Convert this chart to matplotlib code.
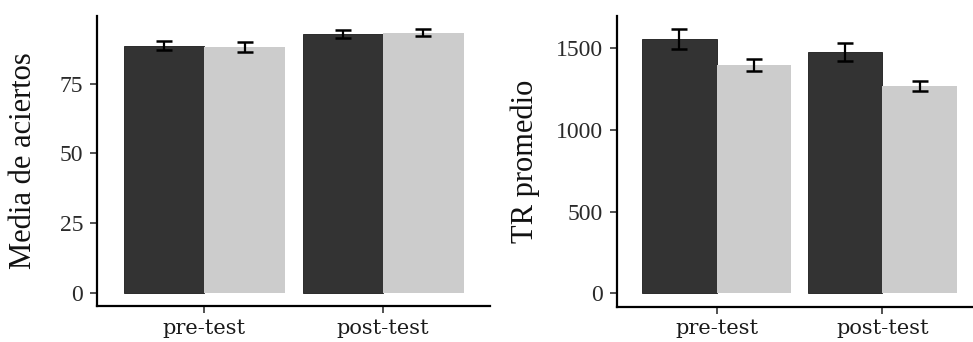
import matplotlib
matplotlib.use("Agg")
import matplotlib.pyplot as plt
import numpy as np

# Data
categories = ["pre-test", "post-test"]
acc_group1 = [88.7, 92.9]
acc_group1_err = [1.5, 1.35]
acc_group2 = [88.1, 93.3]
acc_group2_err = [1.8, 1.3]

tr_group1 = [1557, 1479]
tr_group1_err = [60, 55]
tr_group2 = [1398, 1269]
tr_group2_err = [39, 32]

acc_ticks = [0, 25, 50, 75]
tr_ticks = [0, 500, 1000, 1500]

dark = "#333333"
light = "#cccccc"

W, H = 973, 342
fig = plt.figure(figsize=(W / 100, H / 100), dpi=100)

def panel(rect, g1, e1, g2, e2, ticks, ylabel, label_x):
    ax = fig.add_axes(rect)
    x = np.arange(1, len(categories) + 1)
    w = 0.45
    ax.bar(x - w / 2, g1, width=w, color=dark, edgecolor="#1a1a1a", linewidth=0.6, zorder=2)
    ax.bar(x + w / 2, g2, width=w, color=light, edgecolor="none", zorder=2)
    ax.errorbar(x - w / 2, g1, yerr=e1, fmt="none", ecolor="black", elinewidth=1.6,
                capsize=6, capthick=1.8, zorder=3)
    ax.errorbar(x + w / 2, g2, yerr=e2, fmt="none", ecolor="black", elinewidth=1.6,
                capsize=6, capthick=1.8, zorder=3)
    top = max(max(np.array(g1) + np.array(e1)), max(np.array(g2) + np.array(e2)))
    ax.set_ylim(-0.05 * top, top * 1.05)
    ax.set_xlim(0.4, len(categories) + 0.6)
    ax.set_xticks(x)
    ax.set_xticklabels(categories, fontfamily="DejaVu Serif", fontsize=15, color="#1a1a1a")
    ax.set_yticks(ticks)
    ax.set_yticklabels([str(t) for t in ticks], fontfamily="Liberation Serif", fontsize=17,
                       color="#2a2a2a")
    for s in ["top", "right"]:
        ax.spines[s].set_visible(False)
    for s in ["left", "bottom"]:
        ax.spines[s].set_linewidth(1.6)
        ax.spines[s].set_color("black")
    ax.tick_params(axis="y", length=5, width=1.2, color="#333333", pad=5)
    ax.tick_params(axis="x", length=5, width=1.2, color="#333333", pad=4)
    ax.set_ylabel(ylabel, fontfamily="Liberation Serif", fontsize=22, color="#111111",
                  va="center", ha="center")
    ax.yaxis.set_label_coords(label_x, 0.5)
    return ax

rect_left = [97 / W, (H - 306) / H, 393.5 / W, 290 / H]
rect_right = [617 / W, (H - 306.5) / H, 365 / W, 290.5 / H]

panel(rect_left, acc_group1, acc_group1_err, acc_group2, acc_group2_err,
      acc_ticks, "Media de aciertos", -0.186)
panel(rect_right, tr_group1, tr_group1_err, tr_group2, tr_group2_err,
      tr_ticks, "TR promedio", -0.252)

fig.savefig("out.png", dpi=100)
